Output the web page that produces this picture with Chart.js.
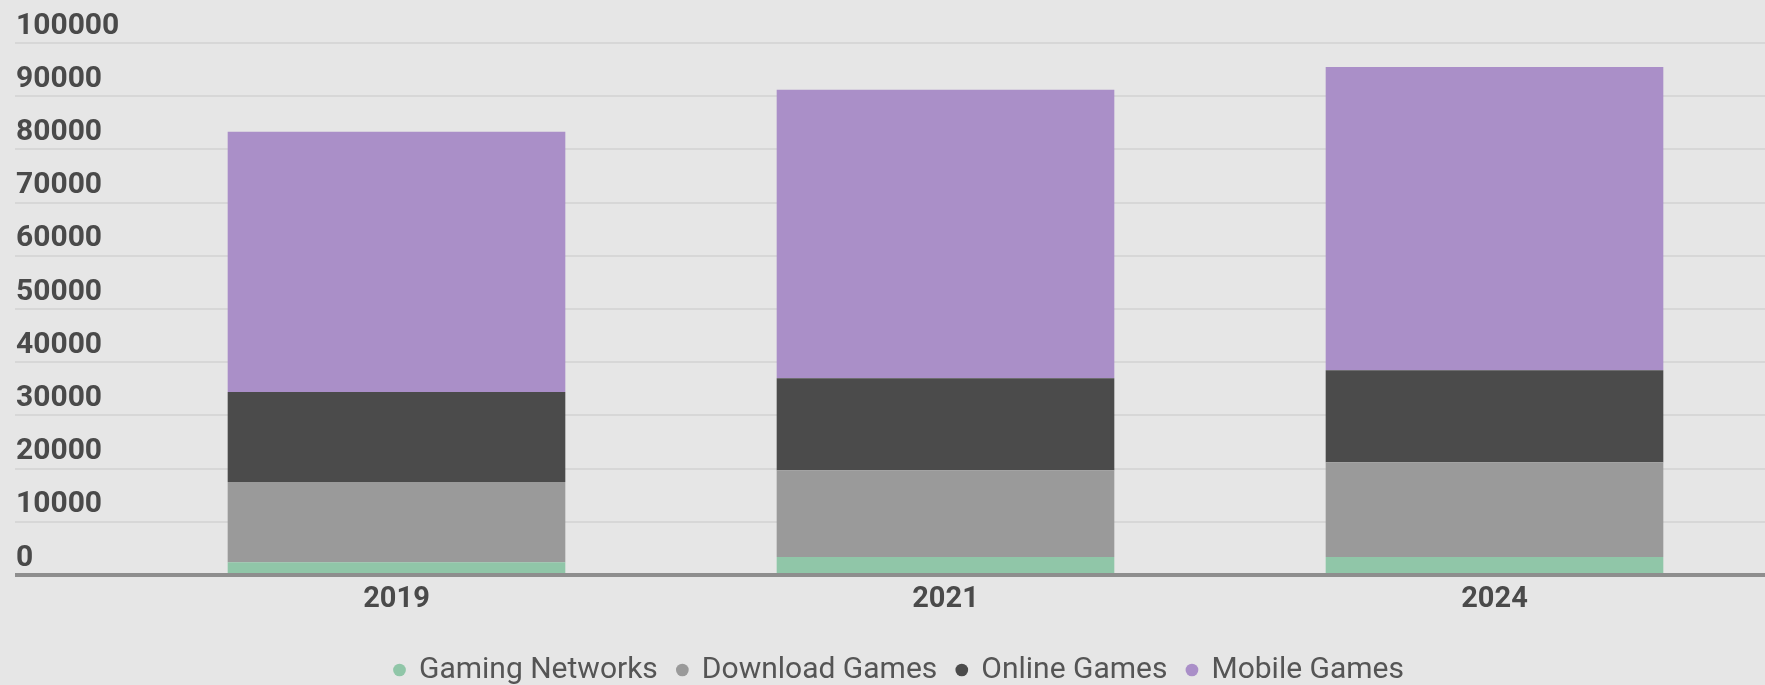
<!DOCTYPE html>
<html>
<head>
<meta charset="utf-8">
<script src="https://cdn.jsdelivr.net/npm/chart.js@4.4.1/dist/chart.umd.min.js"></script>
<style>
  html, body { margin: 0; padding: 0; background: #e6e6e6; overflow: hidden; }
  /* canvas runs past the right edge, so the last bar keeps its spacing */
  #wrap { width: 1783px; height: 685px; position: relative; }
</style>
</head>
<body>
<div id="wrap"><canvas id="revenue"></canvas></div>
<script>
  // ── Data ──
  var years = ['2019', '2021', '2024'];
  var gamingNetworks = [2400, 3400, 3400];
  var downloadGames = [15100, 16300, 17800];
  var onlineGames = [16900, 17300, 17300];
  var mobileGames = [48900, 54200, 57000];
  var yTicks = [0, 10000, 20000, 30000, 40000, 50000, 60000, 70000, 80000, 90000, 100000];

  var AXIS_COLOR = '#8e8e8e';
  var GRID_COLOR = '#d7d7d7';
  var TEXT_COLOR = '#4a4a4a';
  var Y_AXIS_WIDTH = 92;
  var X_AXIS_HEIGHT = 60;
  var LABEL_LEFT = 16;      // y labels start this far from the canvas edge
  var PLOT_LEFT = 122;      // left edge of the plot area

  function isZero(c) { return c.tick && c.tick.value === 0; }

  function series(label, data, color) {
    return {
      label: label,
      data: data,
      backgroundColor: color,
      borderWidth: 0,
      categoryPercentage: 1,
      barPercentage: 0.615
    };
  }

  new Chart(document.getElementById('revenue'), {
    type: 'bar',
    data: {
      labels: years,
      datasets: [
        series('Gaming Networks', gamingNetworks, '#90c6a8'),
        series('Download Games', downloadGames, '#9a9a9a'),
        series('Online Games', onlineGames, '#4b4b4b'),
        series('Mobile Games', mobileGames, '#aa8fc8')
      ]
    },
    options: {
      responsive: true,
      maintainAspectRatio: false,
      animation: false,
      layout: { padding: { left: PLOT_LEFT - Y_AXIS_WIDTH, right: 14, top: 43, bottom: -10 } },
      scales: {
        x: {
          stacked: true,
          z: 1,
          border: { display: true, color: AXIS_COLOR, width: 4 },
          grid: { display: false, drawTicks: false },
          afterFit: function(axis) { axis.height = X_AXIS_HEIGHT; },
          ticks: {
            padding: 7,
            color: TEXT_COLOR,
            font: { family: 'Roboto', size: 29, weight: 'bold' }
          }
        },
        y: {
          stacked: true,
          min: 0,
          max: 100000,
          border: { display: false },
          grid: {
            // the zero line doubles as the dark baseline under the labels
            color: function(c) { return isZero(c) ? AXIS_COLOR : GRID_COLOR; },
            lineWidth: function(c) { return isZero(c) ? 4 : 2; },
            drawTicks: true,
            tickLength: PLOT_LEFT - LABEL_LEFT + 1
          },
          afterBuildTicks: function(axis) {
            axis.ticks = yTicks.map(function(v) { return { value: v }; });
          },
          afterFit: function(axis) { axis.width = Y_AXIS_WIDTH; },
          ticks: {
            mirror: true,
            labelOffset: -17,
            padding: LABEL_LEFT - PLOT_LEFT,
            color: TEXT_COLOR,
            font: { family: 'Roboto', size: 30, weight: 'bold' },
            callback: function(v) { return String(v); }
          }
        }
      },
      plugins: {
        tooltip: { enabled: false },
        legend: {
          position: 'bottom',
          labels: {
            usePointStyle: true,
            pointStyle: 'circle',
            boxWidth: 9,
            boxHeight: 9,
            padding: 20,
            color: '#555555',
            font: { family: 'Roboto', size: 30 }
          }
        }
      }
    }
  });
</script>
</body>
</html>
